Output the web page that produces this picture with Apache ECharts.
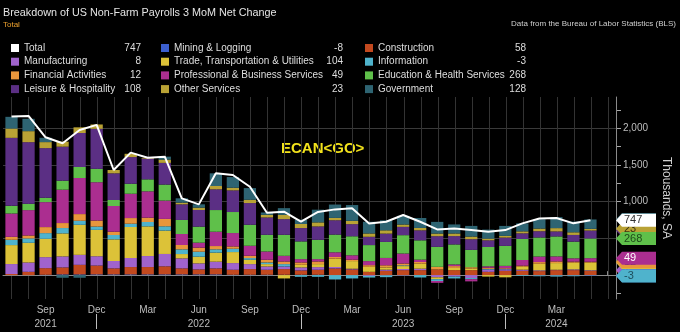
<!DOCTYPE html>
<html>
<head>
<meta charset="utf-8">
<script src="https://cdn.jsdelivr.net/npm/echarts@6/dist/echarts.min.js"></script>
<style>
  html, body { margin: 0; padding: 0; background: #000; }
  #chart { width: 680px; height: 332px; }
</style>
</head>
<body>
<div id="chart"></div>
<script>
// Months on the category axis (3-month net change ending in that month)
const months = [
  'Jul 2021','Aug 2021','Sep 2021','Oct 2021','Nov 2021','Dec 2021',
  'Jan 2022','Feb 2022','Mar 2022','Apr 2022','May 2022','Jun 2022',
  'Jul 2022','Aug 2022','Sep 2022','Oct 2022','Nov 2022','Dec 2022',
  'Jan 2023','Feb 2023','Mar 2023','Apr 2023','May 2023','Jun 2023',
  'Jul 2023','Aug 2023','Sep 2023','Oct 2023','Nov 2023','Dec 2023',
  'Jan 2024','Feb 2024','Mar 2024','Apr 2024','May 2024','Jun 2024'
];
const monthTicks = ['Sep', 'Dec', 'Mar', 'Jun'];
const yearLabels = { 'Sep 2021': '2021', 'Jun 2022': '2022', 'Jun 2023': '2023', 'Mar 2024': '2024' };
const yearSeparators = ['Dec 2021', 'Dec 2022', 'Dec 2023'];
const valueTickLabels = [1000, 1500, 2000];

// Thousands of jobs, seasonally adjusted
const total         = [2160,2167,1877,1795,1976,2045,1431,1668,1599,1612,1045, 963,1386,1363,1203, 849, 864, 727, 860, 895, 909, 704, 727, 818, 727, 622, 636, 613, 590, 613, 704, 772, 777, 705, 747];
const mining        = [   0,   0,   5,  10,  10,  10,  10,  10,  10,  10,  10,  10,  10,   5,   5,   5,   5,   5,   5,   0,   0,   0,  -5,  -5,   0,   0,   0,   0,   0,   0,   0,  -5,  -5,  -5,  -8];
const construction  = [  15,  45,  90,  95, 130, 120,  82, 100, 100, 110,  82,  68,  82,  68,  77,  68,  77,  59,  68,  91,  77,  45,  59,  68,  68,  77,  68,  68,  45,  59,  59,  55,  68,  68,  58];
const manufacturing = [ 136, 127, 150, 150, 136, 127, 100, 123, 150, 168, 136,  82,  91,  91,  68,  45,  36,  41,  36,  20,  10, -10,  15,  15,  20, -30, -20, -40,  30,  20,  15,  10,   5,  10,   8];
const trade         = [ 258, 268, 250, 313, 409, 359, 295, 422, 404, 318,  59,  91, 123, 150,  59,  32, -45,  36,  41, 113, 104,  68,  30,  40,  68, -25,  30,  20, -20, -30,  40,  90,  91,  91, 104];
const information   = [  72,  60,  77,  73,  55,  45,  59,  45,  59,  59,  64,  68,  45,  45,  23,  23,  32, -23, -23, -59, -45, -23, -23,  10, -32, -25, -25, -15,  10,   5, -10, -10, -15, -10,  -3];
const financial     = [  40,  40,  82,  68,  91,  82,  45,  77,  59, 100,  59,  55,  45,  32,  32,  36,  36,  32,  36,  23,  20,  23,  30,  25,  23,  36,  25,  20,  15,  10,  15,  23,  23,  15,  12];
const professional  = [ 318, 345, 340, 454, 491, 522, 350, 331, 359, 250, 150,  68, 195, 182, 136, 113,  77,  45,  32,  64,  59,  55, 100, 136,  32, -25,  23, -30,  20,  32,  77,  75,  68,  45,  49];
const eduHealth     = [ 104,  86,  59, 123, 150, 182,  82, 136, 163, 218, 191, 218, 295, 286, 286, 227, 286, 241, 263, 241, 259, 218, 218, 250, 263, 272, 272, 236, 263, 272, 286, 260, 272, 227, 268];
const leisure       = [ 926, 839, 676, 463, 463, 545, 363, 363, 282, 295, 213, 227, 282, 295, 295, 236, 213, 182, 182, 195, 165, 113, 113, 113, 136, 145, 113, 145,  91, 113,  77,  85,  68,  91, 108];
const otherServices = [ 127, 150,  82,  68,  77,  59,  45,  45,  10,  45,  23,  32,  45,  36,  45,  36,  59,  55,  55,  32,  45,  45,  45,  32,  32,  36,  36,  36,  23,  23,  27,  36,  45,  36,  23];
const government    = [ 159, 168,  59, -36, -36,   0,   0,   0,   0,  40,  59,  45, 173, 145, 159,  32,  91,  59, 173, 182, 215, 159, 136, 118, 136, 159, 123, 145, 123, 136, 109, 127, 150, 145, 128];

// Stack order, bottom to top
const components = [
  { name: 'Mining & Logging',                  data: mining,        color: '#3b5fcf', text: '#ffffff' },
  { name: 'Construction',                      data: construction,  color: '#c2491f', text: '#ffffff' },
  { name: 'Manufacturing',                     data: manufacturing, color: '#a063cc', text: '#ffffff' },
  { name: 'Trade, Transportation & Utilities', data: trade,         color: '#dcc238', text: '#2a2a2a' },
  { name: 'Information',                       data: information,   color: '#4fb3cc', text: '#1d4e5c' },
  { name: 'Financial Activities',              data: financial,     color: '#e8963c', text: '#2a2a2a' },
  { name: 'Professional & Business Services',  data: professional,  color: '#ab2e90', text: '#ffffff' },
  { name: 'Education & Health Services',       data: eduHealth,     color: '#5fc04a', text: '#1f4a1a' },
  { name: 'Leisure & Hospitality',             data: leisure,       color: '#5b2f84', text: '#ffffff' },
  { name: 'Other Services',                    data: otherServices, color: '#b9a235', text: '#3a3210' },
  { name: 'Government',                        data: government,    color: '#2e6472', text: '#ffffff' }
];
const TOTAL_NAME = 'Total';

// Layout
const FONT = '"Liberation Sans", Arial, sans-serif';
const GL = 3, GR = 63, GT = 97, GB = 33;
const YMIN = -325, YMAX = 2425;
const H = 332;
const plotH = H - GT - GB;
const pxPer = plotH / (YMAX - YMIN);
const yPix = v => GT + (YMAX - v) * pxPer;
const band = (680 - GL - GR) / months.length;

const last = total.length - 1;
const byName = {};
components.forEach(c => byName[c.name] = c);
const lastValue = name => name === TOTAL_NAME ? total[last] : byName[name].data[last];

// Axis-side flags: outer edge of each segment in the latest bar
const flagTop = {};
let posAcc = 0, negAcc = 0;
components.forEach(c => {
  const v = c.data[last];
  if (v >= 0) { posAcc += v; flagTop[c.name] = posAcc; }
  else { negAcc += v; flagTop[c.name] = negAcc; }
});
// Later flags are painted over earlier ones
const flagOrder = ['Government', 'Leisure & Hospitality', 'Other Services', 'Education & Health Services', TOTAL_NAME,
  'Construction', 'Manufacturing', 'Trade, Transportation & Utilities', 'Financial Activities',
  'Professional & Business Services', 'Mining & Logging', 'Information'];
const flags = flagOrder.map(n => n === TOTAL_NAME
  ? { y: total[last], text: String(total[last]), color: '#ffffff', textColor: '#333333' }
  : { y: flagTop[n], text: String(byName[n].data[last]), color: byName[n].color, textColor: byName[n].text });

const legendRich = (nameW, valW) => ({
  n: { width: nameW, color: '#dedede', fontSize: 10, fontFamily: FONT },
  v: { width: valW, align: 'right', color: '#dedede', fontSize: 10, fontFamily: FONT }
});
const legendCol = (left, names, nameW, valW) => ({
  left: left, top: 41.5, orient: 'vertical', padding: 0,
  itemWidth: 8, itemHeight: 8, itemGap: 0.7, icon: 'rect',
  data: names,
  selectedMode: false,
  textStyle: { lineHeight: 13, rich: legendRich(nameW, valW) },
  formatter: name => '{n|' + name + '}{v|' + lastValue(name) + '}'
});

const barSeries = components.map(c => ({
  name: c.name, type: 'bar', stack: 'jobs', data: c.data.concat([null]),
  xAxisIndex: 0, yAxisIndex: 0, barWidth: '72%',
  itemStyle: { color: c.color }, emphasis: { disabled: true }, z: 2
}));

const option = {
  backgroundColor: '#000000',
  animation: false,
  color: components.map(c => c.color),
  title: [
    { text: 'Breakdown of US Non-Farm Payrolls 3 MoM Net Change', left: 3, top: 8, padding: 0,
      textStyle: { color: '#e4e4e4', fontSize: 10.8, fontWeight: 'normal', fontFamily: FONT },
      subtext: 'Total', itemGap: 2,
      subtextStyle: { color: '#eba02e', fontSize: 8, fontFamily: FONT } },
    { text: 'Data from the Bureau of Labor Statistics (BLS)', right: 4, top: 20, padding: 0,
      textStyle: { color: '#cfcfcf', fontSize: 8, fontWeight: 'normal', fontFamily: FONT } }
  ],
  legend: [
    legendCol(11, [TOTAL_NAME, 'Manufacturing', 'Financial Activities', 'Leisure & Hospitality'], 95, 22),
    legendCol(161, ['Mining & Logging', 'Trade, Transportation & Utilities', 'Professional & Business Services', 'Other Services'], 150, 19),
    legendCol(365, ['Construction', 'Information', 'Education & Health Services', 'Government'], 128, 20)
  ],
  graphic: [
    { type: 'text', left: 281, top: 141, style: { text: 'ECAN<GO>', fill: '#f2e21c', font: 'bold 15px ' + FONT } }
  ],
  grid: [
    // 0: data
    { left: GL, right: GR, top: GT, bottom: GB },
    // 1: vertical month grid lines through bar centres
    { left: GL + band / 2, right: GR + band / 2, top: GT, bottom: GB },
    // 2: value ticks every 250 and labels
    { left: GL, right: GR, top: yPix(2250), bottom: H - yPix(-250) },
    // 3: horizontal grid lines every 500
    { left: GL, right: GR, top: yPix(2000), bottom: H - yPix(0) }
  ],
  xAxis: [
    { type: 'category', gridIndex: 0, data: months, boundaryGap: true,
      axisLine: { show: true, lineStyle: { color: '#8a8a8a', width: 1 } },
      axisTick: { show: true, inside: true, length: 4, alignWithLabel: true, interval: 0, lineStyle: { color: '#8a8a8a' } },
      axisLabel: { show: true, color: '#bdbdbd', fontSize: 10, fontFamily: FONT, margin: 6,
        interval: (i, v) => i <= last && monthTicks.includes(v.slice(0, 3)),
        formatter: v => v.slice(0, 3) },
      splitLine: { show: false } },
    { type: 'category', gridIndex: 0, data: months, boundaryGap: true, position: 'bottom', offset: 15,
      axisLine: { show: false },
      axisTick: { show: true, alignWithLabel: true, length: 15,
        interval: (i, v) => yearSeparators.includes(v), lineStyle: { color: '#bdbdbd' } },
      axisLabel: { show: true, color: '#bdbdbd', fontSize: 10, fontFamily: FONT, margin: 5,
        interval: (i, v) => v in yearLabels, formatter: v => yearLabels[v] || '' },
      splitLine: { show: false } },
    { type: 'category', gridIndex: 1, data: months, boundaryGap: false,
      axisLine: { show: false }, axisTick: { show: false }, axisLabel: { show: false },
      splitLine: { show: true, interval: 0, lineStyle: { color: '#333333', width: 1 } } },
    { type: 'category', gridIndex: 2, data: months, show: false },
    { type: 'category', gridIndex: 3, data: months, show: false }
  ],
  yAxis: [
    { type: 'value', gridIndex: 0, position: 'right', min: YMIN, max: YMAX,
      axisLine: { show: true, lineStyle: { color: '#8a8a8a' } },
      axisTick: { show: false }, axisLabel: { show: false }, splitLine: { show: false },
      name: 'Thousands, SA', nameLocation: 'middle', nameGap: 44, nameRotate: -90,
      nameTextStyle: { color: '#d0d0d0', fontSize: 12, fontFamily: FONT } },
    { type: 'value', gridIndex: 1, min: YMIN, max: YMAX, show: false, splitLine: { show: false } },
    { type: 'value', gridIndex: 2, position: 'right', min: -250, max: 2250, interval: 250,
      axisLine: { show: false },
      axisTick: { show: true, length: 4, lineStyle: { color: '#a8a8a8' } },
      axisLabel: { show: true, color: '#bdbdbd', fontSize: 10, fontFamily: FONT, margin: 6,
        formatter: v => valueTickLabels.includes(v) ? v.toLocaleString('en-US') : '' },
      splitLine: { show: false } },
    { type: 'value', gridIndex: 3, min: 0, max: 2000, interval: 500,
      axisLine: { show: false }, axisTick: { show: false }, axisLabel: { show: false },
      splitLine: { show: true, lineStyle: { color: '#3a3a3a', width: 1 } } }
  ],
  series: barSeries.concat([
    { name: TOTAL_NAME, type: 'line', data: total.concat([null]), xAxisIndex: 0, yAxisIndex: 0,
      showSymbol: false, symbol: 'none', color: '#ffffff',
      lineStyle: { color: '#ffffff', width: 2 }, emphasis: { disabled: true }, z: 5 },
    { type: 'custom', xAxisIndex: 0, yAxisIndex: 0, clip: false, silent: true, z: 10,
      data: flags.map(f => [months.length - 1, f.y]),
      renderItem: (params, api) => {
        const f = flags[params.dataIndex];
        const pt = api.coord([months.length - 1, f.y]);
        const bw = api.size([1, 0])[0];
        const x0 = pt[0] + bw / 2, y = pt[1], h = 13, w = 40, tip = 6;
        return { type: 'group', children: [
          { type: 'polygon', shape: { points: [[x0, y], [x0 + tip, y - h / 2], [x0 + w, y - h / 2], [x0 + w, y + h / 2], [x0 + tip, y + h / 2]] },
            style: { fill: f.color } },
          { type: 'text', style: { text: f.text, x: x0 + 8, y: y, verticalAlign: 'middle', fill: f.textColor, font: '11px ' + FONT } }
        ] };
      } }
  ])
};

const chart = echarts.init(document.getElementById('chart'), null, { renderer: 'canvas' });
chart.setOption(option);
</script>
</body>
</html>
